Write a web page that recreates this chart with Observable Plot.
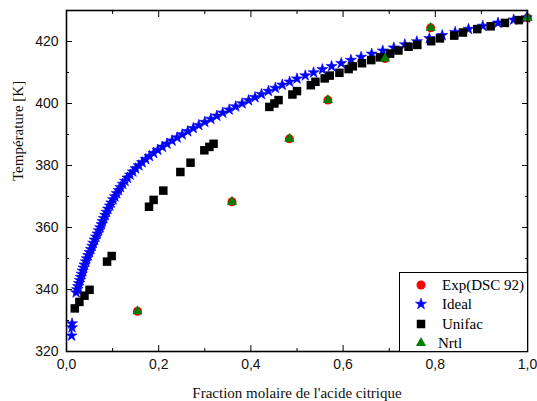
<!DOCTYPE html>
<html>
<head>
<meta charset="utf-8">
<script src="https://cdn.jsdelivr.net/npm/d3@7"></script>
<script src="https://cdn.jsdelivr.net/npm/@observablehq/plot@0.6"></script>
<style>
  body { margin: 0; background: #fff; }
  #chart { position: relative; width: 537px; height: 401px; }
  #chart svg.plot { display: block; }
  .legend {
    position: absolute; left: 399px; top: 272px; width: 127px; height: 78px;
    border: 1px solid #000; background: #fff; box-sizing: content-box;
    font-family: "Liberation Serif", "Times New Roman", serif; font-size: 15px; color: #000;
  }
  .legend .row { position: absolute; left: 0; height: 20px; display: flex; align-items: center; }
  .legend .row svg { position: absolute; left: 11px; top: 0; }
  .legend .row span { position: absolute; white-space: nowrap; line-height: 20px; top: 0; }
</style>
</head>
<body>
<div id="chart"></div>
<script>
// Solid–liquid equilibrium of citric acid: experimental points and model curves.

// Experimental (DSC 92)
const expFraction    = [0.154, 0.359, 0.4835, 0.567, 0.691, 0.790, 1.000];
const expTemperature = [333.0, 368.3, 388.6, 401.1, 414.5, 424.4, 427.6];

// NRTL model
const nrtlFraction    = [0.154, 0.359, 0.4835, 0.567, 0.691, 0.790, 1.000];
const nrtlTemperature = [333.0, 368.3, 388.6, 401.1, 414.5, 424.4, 427.6];

// Ideal solubility
const idealFraction = [
  0.011, 0.012, 0.012,
  0.021, 0.023, 0.025, 0.027, 0.029, 0.031, 0.033, 0.035, 0.037, 0.039,
  0.042, 0.044, 0.047, 0.050, 0.053, 0.056, 0.058, 0.061, 0.064, 0.067,
  0.070, 0.073, 0.076, 0.078, 0.081, 0.084, 0.087, 0.090, 0.094, 0.097,
  0.101, 0.105, 0.109, 0.113, 0.117, 0.122, 0.127, 0.132, 0.138, 0.144,
  0.150, 0.157, 0.164, 0.172, 0.180, 0.189, 0.198, 0.208, 0.218, 0.229,
  0.240, 0.251, 0.263, 0.275, 0.287, 0.300, 0.313, 0.326, 0.339, 0.353,
  0.367, 0.381, 0.395, 0.409, 0.423, 0.438, 0.453, 0.468, 0.484, 0.500,
  0.518, 0.536, 0.555, 0.575, 0.596, 0.617, 0.639, 0.662, 0.686, 0.710,
  0.734, 0.760, 0.787, 0.815, 0.843, 0.872, 0.903, 0.936, 0.970, 0.998
];
const idealTemperature = [
  325.1, 327.7, 329.0,
  339, 340, 341, 342, 343, 344, 345, 346, 347, 348,
  349, 350, 351, 352, 353, 354, 355, 356, 357, 358,
  359, 360, 361, 362, 363, 364, 365, 366, 367, 368,
  369, 370, 371, 372, 373, 374, 375, 376, 377, 378,
  379, 380, 381, 382, 383, 384, 385, 386, 387, 388,
  389, 390, 391, 392, 393, 394, 395, 396, 397, 398,
  399, 400, 401, 402, 403, 404, 405, 406, 407, 408,
  409, 410, 411, 412, 413, 414, 415, 416, 417, 418,
  419, 420, 421, 422, 423, 424, 425, 426, 427, 427.7
];

// UNIFAC model
const unifacFraction = [
  0.018, 0.028, 0.039, 0.050, 0.088, 0.098, 0.179, 0.189, 0.210, 0.247,
  0.269, 0.299, 0.310, 0.319, 0.440, 0.451, 0.460, 0.490, 0.500, 0.530,
  0.540, 0.560, 0.571, 0.592, 0.612, 0.621, 0.641, 0.661, 0.680, 0.702,
  0.720, 0.742, 0.761, 0.791, 0.810, 0.841, 0.860, 0.891, 0.920, 0.951, 0.981
];
const unifacTemperature = [
  333.9, 336.0, 338.0, 339.9, 349.0, 350.8, 366.7, 368.9, 371.9, 377.9,
  380.9, 384.9, 386.0, 387.0, 398.9, 400.0, 401.1, 402.9, 404.0, 405.9,
  407.0, 408.1, 409.0, 409.9, 411.1, 412.0, 413.0, 414.0, 414.9, 416.1,
  417.1, 418.3, 418.9, 420.1, 421.0, 421.9, 422.9, 424.0, 424.9, 426.0, 426.9
];

const seriesNames = ["Exp(DSC 92)", "Ideal", "Unifac", "Nrtl"];

const xMajorTicks = [0, 0.2, 0.4, 0.6, 0.8, 1.0];
const xMinorTicks = [0.1, 0.3, 0.5, 0.7, 0.9];
const yMajorTicks = [320, 340, 360, 380, 400, 420];
const yMinorTicks = [330, 350, 370, 390, 410];

const xTitle = "Fraction molaire de l'acide citrique";
const yTitle = "Température [K]";

const zip = (xs, ys) => xs.map((x, i) => ({fraction: x, temperature: ys[i]}));
const expRows = zip(expFraction, expTemperature);
const idealRows = zip(idealFraction, idealTemperature);
const unifacRows = zip(unifacFraction, unifacTemperature);
const nrtlRows = zip(nrtlFraction, nrtlTemperature);

// marker styles shared by the plot and its legend
const styles = [
  {symbol: "circle",   r: 4.5, fill: "#ff0000", stroke: "none"},
  {symbol: "star",     r: 3.5, fill: "#0000ff", stroke: "#0000ee", strokeWidth: 0.6},
  {symbol: "square",   r: 4.8, fill: "#000000", stroke: "none"},
  {symbol: "triangle", r: 3.8, fill: "#008000", stroke: "none"}
];

const commaFormat = d => d.toFixed(1).replace(".", ",");
const serif = "'Liberation Serif', 'Times New Roman', serif";

const plot = Plot.plot({
  width: 537,
  height: 401,
  marginLeft: 66,
  marginRight: 10,
  marginTop: 10,
  marginBottom: 50,
  style: {fontFamily: "'Liberation Sans', Arial, sans-serif", fontSize: "14px", color: "#111", background: "#fff"},
  x: {domain: [0, 1], label: null},
  y: {domain: [320, 430], label: null},
  marks: [
    // tick labels
    Plot.axisX(xMajorTicks, {anchor: "bottom", tickSize: 0, tickPadding: 8, tickFormat: commaFormat, label: null}),
    Plot.axisY(yMajorTicks, {anchor: "left", tickSize: 0, tickPadding: 8, tickFormat: d => String(d), label: null}),
    // inward tick marks on all four sides
    Plot.axisX(xMajorTicks, {anchor: "bottom", tickSize: -6, tickFormat: () => "", label: null, stroke: "#000"}),
    Plot.axisX(xMinorTicks, {anchor: "bottom", tickSize: -3, tickFormat: () => "", label: null, stroke: "#000"}),
    Plot.axisX(xMajorTicks, {anchor: "top", tickSize: -6, tickFormat: () => "", label: null, stroke: "#000"}),
    Plot.axisX(xMinorTicks, {anchor: "top", tickSize: -3, tickFormat: () => "", label: null, stroke: "#000"}),
    Plot.axisY(yMajorTicks, {anchor: "left", tickSize: -6, tickFormat: () => "", label: null, stroke: "#000"}),
    Plot.axisY(yMinorTicks, {anchor: "left", tickSize: -3, tickFormat: () => "", label: null, stroke: "#000"}),
    Plot.axisY(yMajorTicks, {anchor: "right", tickSize: -6, tickFormat: () => "", label: null, stroke: "#000"}),
    Plot.axisY(yMinorTicks, {anchor: "right", tickSize: -3, tickFormat: () => "", label: null, stroke: "#000"}),
    // axis titles
    Plot.text([xTitle], {text: d => d, frameAnchor: "bottom", lineAnchor: "bottom", dy: 46,
      fontFamily: serif, fontSize: 15, fill: "#111"}),
    Plot.text([yTitle], {text: d => d, frameAnchor: "left", lineAnchor: "middle", rotate: -90, dx: -48,
      fontFamily: serif, fontSize: 15, fill: "#111"}),
    // data
    Plot.dot(expRows, {x: "fraction", y: "temperature", ...styles[0]}),
    Plot.dot(idealRows, {x: "fraction", y: "temperature", ...styles[1]}),
    Plot.dot(unifacRows, {x: "fraction", y: "temperature", ...styles[2]}),
    Plot.dot(nrtlRows, {x: "fraction", y: "temperature", ...styles[3]}),
    Plot.frame({stroke: "#000", strokeWidth: 1.6})
  ]
});

const chart = document.getElementById("chart");
chart.appendChild(plot);

// legend box in the lower-right corner of the frame
const legend = document.createElement("div");
legend.className = "legend";
const rowCenters = [11.5, 31, 50.5, 70];
const textLeft = [42, 42, 42, 38];
const symbolTypes = {circle: d3.symbolCircle, star: d3.symbolStar, square: d3.symbolSquare, triangle: d3.symbolTriangle};
seriesNames.forEach((name, i) => {
  const row = document.createElement("div");
  row.className = "row";
  row.style.top = (rowCenters[i] - 10) + "px";
  row.style.width = "127px";
  const s = styles[i];
  const path = d3.symbol(symbolTypes[s.symbol], Math.PI * s.r * s.r)();
  row.innerHTML =
    `<svg width="20" height="20" viewBox="-10 -10 20 20"><path d="${path}" fill="${s.fill}" stroke="${s.stroke}" stroke-width="${s.strokeWidth || 0}"></path></svg>` +
    `<span style="left:${textLeft[i]}px">${name}</span>`;
  legend.appendChild(row);
});
chart.appendChild(legend);
</script>
</body>
</html>
